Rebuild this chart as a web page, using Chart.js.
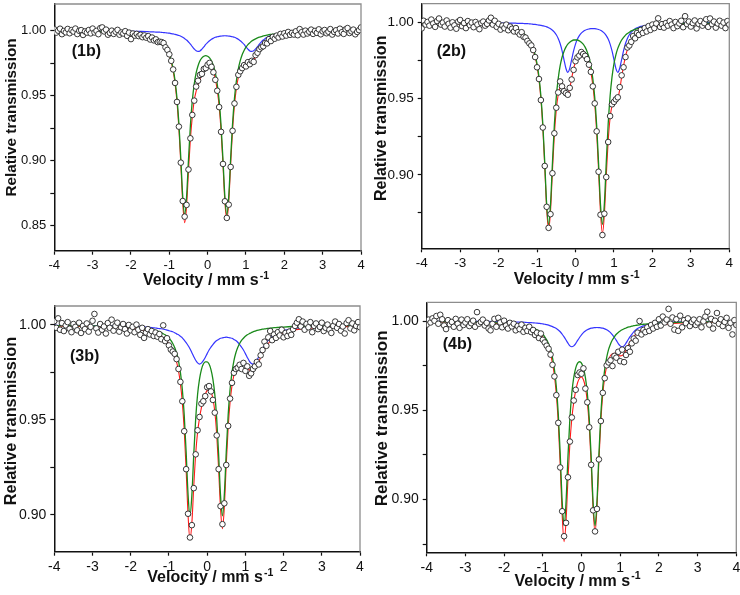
<!DOCTYPE html>
<html>
<head>
<meta charset="utf-8">
<title>Mossbauer spectra 1b-4b</title>
<script src="https://cdn.jsdelivr.net/npm/chart.js@4.4.0/dist/chart.umd.min.js"></script>
<style>
  html, body { margin: 0; padding: 0; background: #fff; }
  #fig { position: relative; width: 740px; height: 595px; overflow: hidden; }
  #fig canvas { position: absolute; }
</style>
</head>
<body>
<div id="fig">
  <canvas id="c1b" width="370" height="297" style="left:0;top:0"></canvas>
  <canvas id="c2b" width="370" height="297" style="left:370px;top:0"></canvas>
  <canvas id="c3b" width="370" height="298" style="left:0;top:297px"></canvas>
  <canvas id="c4b" width="370" height="298" style="left:370px;top:297px"></canvas>
</div>
<script>
// velocity channels of the measured points (mm/s)
const velocity = [
  -4,-3.95,-3.9,-3.85,-3.8,-3.75,-3.7,-3.65,-3.6,-3.55,
  -3.5,-3.45,-3.4,-3.35,-3.3,-3.25,-3.2,-3.15,-3.1,-3.05,
  -3,-2.95,-2.9,-2.85,-2.8,-2.75,-2.7,-2.65,-2.6,-2.55,
  -2.5,-2.45,-2.4,-2.35,-2.3,-2.25,-2.2,-2.15,-2.1,-2.05,
  -2,-1.95,-1.9,-1.85,-1.8,-1.75,-1.7,-1.65,-1.6,-1.55,
  -1.5,-1.45,-1.4,-1.35,-1.3,-1.25,-1.2,-1.15,-1.1,-1.05,
  -1,-0.95,-0.9,-0.85,-0.8,-0.75,-0.7,-0.65,-0.6,-0.55,
  -0.5,-0.45,-0.4,-0.35,-0.3,-0.25,-0.2,-0.15,-0.1,-0.05,
  0,0.05,0.1,0.15,0.2,0.25,0.3,0.35,0.4,0.45,
  0.5,0.55,0.6,0.65,0.7,0.75,0.8,0.85,0.9,0.95,
  1,1.05,1.1,1.15,1.2,1.25,1.3,1.35,1.4,1.45,
  1.5,1.55,1.6,1.65,1.7,1.75,1.8,1.85,1.9,1.95,
  2,2.05,2.1,2.15,2.2,2.25,2.3,2.35,2.4,2.45,
  2.5,2.55,2.6,2.65,2.7,2.75,2.8,2.85,2.9,2.95,
  3,3.05,3.1,3.15,3.2,3.25,3.3,3.35,3.4,3.45,
  3.5,3.55,3.6,3.65,3.7,3.75,3.8,3.85,3.9,3.95,
  4
];

// velocities where the fitted curves are given
const fitVelocity = [
  -4,-3,-2.5,-2,-1.8,
  -1.6,-1.55,-1.5,-1.45,-1.4,-1.35,-1.3,-1.25,-1.2,-1.15,
  -1.1,-1.05,-1,-0.95,-0.9,-0.85,-0.8,-0.75,-0.7,-0.65,
  -0.6,-0.55,-0.5,-0.45,-0.4,-0.35,-0.3,-0.25,-0.2,-0.15,
  -0.1,-0.05,0,0.05,0.1,0.15,0.2,0.25,0.3,0.35,
  0.4,0.45,0.5,0.55,0.6,0.65,0.7,0.75,0.8,0.85,
  0.9,0.95,1,1.05,1.1,1.15,1.2,1.25,1.3,1.35,
  1.4,1.45,1.5,1.55,1.6,1.65,1.7,1.75,1.8,1.85,
  1.9,1.95,2,
  2.25,2.5,3,4
];

// ---- sample 1b ----
const data1b = [
  1.0010,.9985,1.0000,1.0015,.9973,.9998,.9987,1.0013,.9980,1.0004,
  .9993,1.0016,.9974,.9999,1.0004,.9967,.9994,.9985,1.0005,.9979,
  1.0016,.9986,.9998,.9973,1.0020,1.0025,.9994,1.0008,.9969,.9983,
  1.0000,.9975,.9992,1.0006,.9969,.9986,.9978,.9996,.9960,.9985,
  .9935,.9978,.9962,.9975,.9958,.9968,.9950,.9963,.9946,.9958,
  .9932,.9947,.9925,.9933,.9912,.9915,.9912,.9905,.9872,.9852,
  .9818,.9768,.9702,.9598,.9452,.9262,.8985,.8690,.8570,.8660,
  .8932,.9172,.9352,.9462,.9570,.9615,.9660,.9668,.9705,.9712,
  .9738,.9752,.9722,.9680,.9622,.9538,.9412,.9222,.8975,.8688,
  .8560,.8662,.8952,.9230,.9440,.9568,.9660,.9688,.9712,.9735,
  .9725,.9758,.9742,.9768,.9760,.9812,.9830,.9858,.9872,.9880,
  .9905,.9902,.9935,.9920,.9952,.9938,.9962,.9948,.9975,.9955,
  .9980,.9962,.9990,.9968,.9983,.9970,.9995,.9965,1.0012,.9988,
  .9970,1.0000,.9978,.9992,1.0008,.9975,.9998,.9983,1.0010,.9972,
  .9995,1.0005,.9980,.9992,1.0012,.9970,.9990,1.0003,.9978,1.0015,
  .9988,.9975,1.0010,1.0020,.9982,.9995,1.0008,.9972,.9990,1.0004,
  1.0025
];
const fit1b = [
  .9995,.9990,.9985,.9974,.9967,
  .9955,.9951,.9946,.9941,.9936,.9930,.9924,.9918,.9907,.9892,
  .9872,.9846,.9811,.9760,.9692,.9592,.9452,.9248,.8974,.8675,
  .8524,.8649,.8920,.9168,.9339,.9464,.9535,.9585,.9627,.9664,
  .9693,.9717,.9727,.9729,.9717,.9687,.9630,.9543,.9418,.9229,
  .8968,.8681,.8546,.8684,.8973,.9238,.9431,.9557,.9640,.9692,
  .9724,.9742,.9748,.9751,.9751,.9760,.9774,.9796,.9821,.9847,
  .9867,.9887,.9901,.9914,.9926,.9934,.9940,.9945,.9952,.9955,
  .9959,.9962,.9965,
  .9975,.9982,.9989,.9994
];
const green1b = [
  .9996,.9992,.9988,.9979,.9973,
  .9962,.9959,.9954,.9950,.9944,.9937,.9929,.9920,.9907,.9893,
  .9873,.9848,.9815,.9769,.9706,.9615,.9482,.9285,.9017,.8726,
  .8585,.8721,.9007,.9271,.9462,.9590,.9675,.9730,.9768,.9791,
  .9803,.9808,.9803,.9791,.9768,.9730,.9675,.9590,.9462,.9271,
  .9007,.8721,.8585,.8726,.9017,.9285,.9482,.9615,.9706,.9769,
  .9815,.9848,.9873,.9893,.9907,.9920,.9929,.9937,.9944,.9950,
  .9954,.9959,.9962,.9965,.9969,.9971,.9973,.9974,.9977,.9978,
  .9979,.9980,.9981,
  .9986,.9989,.9993,.9996
];
const blue1b = [
  .9999,.9998,.9997,.9995,.9994,
  .9993,.9992,.9991,.9991,.9990,.9989,.9989,.9988,.9987,.9985,
  .9984,.9982,.9981,.9977,.9975,.9971,.9967,.9963,.9957,.9949,
  .9939,.9928,.9913,.9897,.9877,.9859,.9845,.9840,.9844,.9858,
  .9875,.9894,.9909,.9923,.9934,.9942,.9949,.9953,.9956,.9958,
  .9960,.9961,.9960,.9958,.9956,.9953,.9949,.9942,.9934,.9923,
  .9909,.9894,.9875,.9858,.9844,.9840,.9845,.9859,.9877,.9897,
  .9913,.9928,.9939,.9949,.9957,.9963,.9967,.9971,.9975,.9977,
  .9980,.9982,.9984,
  .9989,.9993,.9996,.9998
];

// ---- sample 2b ----
const data2b = [
  .9960,1.0010,.9985,1.0002,.9978,1.0018,.9992,.9970,1.0008,1.0025,
  .9985,.9998,.9972,1.0012,.9990,.9965,1.0000,.9980,.9958,1.0005,
  1.0015,.9975,.9995,.9962,1.0008,.9982,.9998,.9968,1.0002,.9985,
  .9955,.9995,1.0005,.9978,.9990,1.0012,1.0030,.9985,1.0010,.9970,
  .9990,.9952,.9978,.9962,.9985,.9948,.9972,.9958,.9940,.9962,
  .9935,.9920,.9935,.9905,.9900,.9878,.9862,.9848,.9818,.9772,
  .9705,.9628,.9490,.9310,.9058,.8790,.8652,.8742,.9010,.9272,
  .9440,.9540,.9612,.9580,.9548,.9535,.9525,.9570,.9625,.9688,
  .9745,.9770,.9782,.9805,.9792,.9780,.9758,.9722,.9675,.9580,
  .9468,.9285,.9020,.8738,.8605,.8745,.8985,.9215,.9385,.9462,
  .9478,.9495,.9508,.9575,.9652,.9705,.9772,.9835,.9848,.9872,
  .9910,.9895,.9930,.9918,.9950,.9930,.9962,.9940,.9975,.9950,
  .9985,.9962,.9992,1.0026,.9970,.9988,.9965,.9995,.9978,1.0008,
  .9985,.9962,1.0002,.9975,.9992,1.0010,.9968,1.0040,.9988,1.0005,
  .9972,.9995,1.0012,.9960,.9990,1.0008,.9978,.9995,1.0020,.9970,
  1.0025,.9988,1.0005,.9965,.9992,1.0010,.9978,.9998,.9962,1.0008,
  .9985
];
const fit2b = [
  .9995,.9990,.9985,.9975,.9966,
  .9953,.9948,.9942,.9937,.9928,.9919,.9907,.9892,.9874,.9849,
  .9816,.9773,.9712,.9624,.9497,.9310,.9054,.8777,.8639,.8762,
  .9024,.9262,.9426,.9525,.9575,.9586,.9565,.9536,.9529,.9567,
  .9633,.9696,.9741,.9774,.9791,.9798,.9797,.9785,.9762,.9727,
  .9672,.9589,.9466,.9282,.9029,.8753,.8615,.8736,.8993,.9223,
  .9374,.9454,.9483,.9485,.9501,.9559,.9640,.9715,.9777,.9821,
  .9853,.9879,.9896,.9911,.9923,.9931,.9939,.9945,.9950,.9954,
  .9959,.9962,.9966,
  .9977,.9982,.9989,.9995
];
const green2b = [
  .9996,.9992,.9988,.9979,.9971,
  .9959,.9954,.9949,.9944,.9935,.9927,.9916,.9901,.9884,.9860,
  .9829,.9787,.9728,.9642,.9517,.9333,.9080,.8807,.8675,.8805,
  .9076,.9326,.9508,.9631,.9714,.9771,.9809,.9837,.9857,.9869,
  .9878,.9884,.9884,.9884,.9878,.9869,.9857,.9837,.9809,.9771,
  .9714,.9631,.9508,.9326,.9076,.8805,.8675,.8807,.9080,.9333,
  .9517,.9642,.9728,.9787,.9829,.9860,.9884,.9901,.9916,.9927,
  .9935,.9944,.9949,.9954,.9959,.9962,.9966,.9969,.9971,.9973,
  .9975,.9976,.9979,
  .9985,.9988,.9992,.9996
];
const blue2b = [
  .9999,.9998,.9997,.9996,.9995,
  .9994,.9994,.9993,.9993,.9993,.9992,.9991,.9991,.9990,.9989,
  .9987,.9986,.9984,.9982,.9980,.9977,.9974,.9970,.9964,.9957,
  .9948,.9936,.9918,.9894,.9861,.9815,.9756,.9699,.9672,.9698,
  .9755,.9812,.9857,.9890,.9913,.9929,.9940,.9948,.9953,.9956,
  .9958,.9958,.9958,.9956,.9953,.9948,.9940,.9929,.9913,.9890,
  .9857,.9812,.9755,.9698,.9672,.9699,.9756,.9814,.9861,.9894,
  .9918,.9935,.9947,.9957,.9964,.9969,.9973,.9976,.9979,.9981,
  .9984,.9986,.9987,
  .9992,.9994,.9997,.9999
];

// ---- sample 3b ----
const data3b = [
  1.0020,.9985,1.0035,.9975,1.0010,.9968,.9998,1.0015,.9980,.9962,
  1.0005,.9990,.9972,1.0012,.9958,.9995,.9978,1.0008,.9965,.9990,
  1.0022,1.0058,.9982,.9960,1.0005,.9975,.9992,.9955,1.0010,.9985,
  1.0028,.9970,.9995,1.0012,.9965,.9988,1.0005,.9978,.9955,1.0000,
  .9972,.9990,.9962,1.0002,.9975,.9948,.9985,.9932,.9960,.9978,
  .9950,.9968,.9942,.9960,.9938,.9952,.9925,.9998,.9915,.9930,
  .9892,.9870,.9860,.9848,.9820,.9768,.9700,.9598,.9440,.9240,
  .9005,.8880,.8945,.9140,.9318,.9445,.9515,.9585,.9598,.9625,
  .9672,.9678,.9650,.9605,.9538,.9418,.9240,.9045,.8950,.9060,
  .9262,.9468,.9612,.9695,.9748,.9768,.9775,.9790,.9768,.9800,
  .9758,.9782,.9732,.9745,.9768,.9782,.9805,.9792,.9840,.9868,
  .9912,.9890,.9935,.9968,.9920,.9950,.9932,.9962,.9945,.9975,
  .9935,.9958,.9942,.9965,.9948,.9978,.9995,1.0012,1.0030,.9992,
  1.0018,.9975,1.0005,.9988,1.0015,.9962,.9995,1.0008,.9978,.9990,
  1.0012,.9968,.9985,1.0002,.9975,.9958,.9995,1.0018,.9985,1.0005,
  .9970,.9992,.9955,1.0010,1.0025,.9982,1.0008,.9972,.9995,1.0015,
  .9988
];
const fit3b = [
  .9995,.9991,.9988,.9981,.9977,
  .9970,.9967,.9965,.9962,.9958,.9955,.9949,.9945,.9939,.9932,
  .9924,.9913,.9900,.9886,.9866,.9840,.9805,.9759,.9690,.9593,
  .9445,.9237,.9000,.8869,.8956,.9151,.9320,.9435,.9509,.9564,
  .9606,.9635,.9655,.9662,.9648,.9612,.9544,.9424,.9242,.9032,
  .8926,.9042,.9266,.9459,.9593,.9680,.9735,.9770,.9790,.9799,
  .9802,.9798,.9789,.9777,.9765,.9757,.9758,.9766,.9785,.9805,
  .9829,.9852,.9871,.9888,.9902,.9915,.9924,.9934,.9939,.9945,
  .9951,.9955,.9959,
  .9973,.9979,.9987,.9993
];
const green3b = [
  .9997,.9995,.9993,.9989,.9986,
  .9981,.9979,.9978,.9976,.9973,.9971,.9967,.9964,.9959,.9954,
  .9948,.9940,.9930,.9919,.9902,.9881,.9852,.9811,.9750,.9661,
  .9525,.9330,.9108,.8994,.9102,.9318,.9506,.9635,.9715,.9765,
  .9794,.9806,.9806,.9794,.9765,.9715,.9635,.9506,.9318,.9102,
  .8994,.9108,.9330,.9525,.9661,.9750,.9811,.9852,.9881,.9902,
  .9919,.9930,.9940,.9948,.9954,.9959,.9964,.9967,.9971,.9973,
  .9975,.9978,.9979,.9981,.9982,.9983,.9984,.9986,.9986,.9987,
  .9988,.9988,.9989,
  .9992,.9993,.9995,.9997
];
const blue3b = [
  .9998,.9996,.9995,.9992,.9991,
  .9989,.9988,.9987,.9986,.9985,.9984,.9982,.9981,.9980,.9978,
  .9976,.9973,.9970,.9967,.9964,.9959,.9953,.9948,.9940,.9932,
  .9920,.9907,.9892,.9875,.9854,.9833,.9814,.9800,.9794,.9799,
  .9812,.9829,.9849,.9868,.9883,.9897,.9909,.9918,.9924,.9930,
  .9932,.9934,.9936,.9934,.9932,.9930,.9924,.9918,.9909,.9897,
  .9883,.9868,.9849,.9829,.9811,.9798,.9794,.9799,.9814,.9832,
  .9854,.9874,.9892,.9907,.9920,.9932,.9940,.9948,.9953,.9958,
  .9963,.9967,.9970,
  .9981,.9986,.9992,.9996
];

// ---- sample 4b ----
const data4b = [
  .9980,1.0008,.9992,1.0015,1.0002,1.0028,.9985,1.0035,1.0010,.9975,
  .9955,1.0005,.9982,.9995,.9968,1.0012,.9985,.9962,1.0008,.9978,
  .9992,1.0010,.9972,.9988,1.0002,.9968,1.0050,.9985,.9995,1.0008,
  .9975,.9990,.9958,.9948,.9985,1.0012,.9968,1.0018,.9992,.9965,
  1.0002,.9975,.9958,.9990,.9970,.9985,.9948,.9972,.9955,.9980,
  .9940,.9962,.9945,.9968,.9938,.9950,.9922,.9935,.9905,.9930,
  .9895,.9880,.9862,.9845,.9812,.9755,.9690,.9585,.9430,.9180,
  .8935,.8795,.8870,.9125,.9325,.9460,.9555,.9615,.9698,.9712,
  .9705,.9735,.9622,.9545,.9405,.9195,.8940,.8822,.8948,.9225,
  .9440,.9598,.9680,.9752,.9768,.9780,.9748,.9805,.9795,.9828,
  .9775,.9840,.9770,.9810,.9848,.9828,.9875,.9902,.9890,.9935,
  1.0000,.9925,.9950,.9938,.9965,.9945,.9978,.9958,.9990,.9968,
  1.0010,.9975,1.0025,.9992,1.0008,1.0068,.9985,1.0020,.9952,1.0010,
  .9945,1.0030,.9965,1.0005,.9988,1.0015,.9972,.9995,1.0008,.9978,
  .9992,1.0010,.9965,.9998,1.0025,1.0052,.9980,1.0012,.9958,1.0002,
  1.0045,.9985,1.0010,.9972,.9995,1.0018,.9962,.9990,.9925,1.0005,
  .9978
];
const fit4b = [
  .9996,.9993,.9991,.9984,.9980,
  .9973,.9971,.9970,.9967,.9963,.9959,.9957,.9951,.9946,.9939,
  .9931,.9922,.9910,.9894,.9875,.9849,.9814,.9764,.9694,.9589,
  .9429,.9195,.8918,.8765,.8878,.9116,.9316,.9453,.9546,.9610,
  .9656,.9680,.9687,.9671,.9629,.9548,.9411,.9200,.8946,.8817,
  .8956,.9218,.9441,.9591,.9686,.9746,.9785,.9807,.9817,.9820,
  .9818,.9810,.9805,.9807,.9818,.9837,.9860,.9879,.9897,.9913,
  .9926,.9935,.9943,.9950,.9955,.9959,.9963,.9966,.9969,.9973,
  .9974,.9976,.9977,
  .9984,.9988,.9992,.9995
];
const green4b = [
  .9997,.9995,.9993,.9988,.9985,
  .9979,.9977,.9976,.9974,.9971,.9968,.9966,.9961,.9957,.9951,
  .9944,.9936,.9926,.9912,.9895,.9872,.9841,.9795,.9730,.9631,
  .9479,.9255,.8992,.8854,.8984,.9240,.9455,.9597,.9685,.9736,
  .9764,.9772,.9764,.9736,.9685,.9597,.9455,.9240,.8984,.8854,
  .8992,.9255,.9479,.9631,.9730,.9795,.9841,.9872,.9895,.9912,
  .9926,.9936,.9944,.9951,.9957,.9961,.9966,.9968,.9971,.9974,
  .9976,.9977,.9979,.9981,.9982,.9983,.9984,.9985,.9986,.9987,
  .9987,.9988,.9988,
  .9991,.9993,.9995,.9997
];
const blue4b = [
  .9999,.9998,.9998,.9996,.9995,
  .9994,.9994,.9994,.9993,.9992,.9991,.9991,.9990,.9989,.9988,
  .9987,.9986,.9984,.9982,.9980,.9977,.9973,.9969,.9964,.9958,
  .9950,.9940,.9926,.9911,.9894,.9876,.9861,.9856,.9861,.9874,
  .9892,.9908,.9923,.9935,.9944,.9951,.9956,.9960,.9962,.9963,
  .9964,.9963,.9962,.9960,.9956,.9951,.9944,.9935,.9922,.9908,
  .9892,.9874,.9861,.9856,.9861,.9876,.9894,.9911,.9926,.9939,
  .9950,.9958,.9964,.9969,.9973,.9976,.9979,.9981,.9983,.9986,
  .9987,.9988,.9989,
  .9993,.9995,.9997,.9998
];

const FONT = "'Liberation Sans', Arial, Helvetica, sans-serif";

// layout of the four panels (canvas-local pixels)
const panels = [
  { id: 'c1b', tag: '(1b)', points: data1b, fit: fit1b, green: green1b, blue: blue1b,
    area: { left: 54.3, right: 361, top: 4, bottom: 250.7 }, yMin: 0.8308, yMax: 1.0205, tickSize: 13,
    yTitle: { x: 12, y: 117.5, size: 15.3 }, xTitle: { x: 206, y: 285 }, tagPos: { x: 71.7, y: 51.7 } },
  { id: 'c2b', tag: '(2b)', points: data2b, fit: fit2b, green: green2b, blue: blue2b,
    area: { left: 51.7, right: 359.3, top: 2, bottom: 248.3 }, yMin: 0.8518, yMax: 1.0122, tickSize: 13.5,
    yTitle: { x: 12, y: 118.3, size: 16 }, xTitle: { x: 206.7, y: 284 }, tagPos: { x: 66.7, y: 51.7 } },
  { id: 'c3b', tag: '(3b)', points: data3b, fit: fit3b, green: green3b, blue: blue3b,
    area: { left: 54.3, right: 360, top: 9, bottom: 254.7 }, yMin: 0.8805, yMax: 1.0100, tickSize: 14,
    yTitle: { x: 11.7, y: 124, size: 16.3 }, xTitle: { x: 210.3, y: 285 }, tagPos: { x: 70, y: 59.7 } },
  { id: 'c4b', tag: '(4b)', points: data4b, fit: fit4b, green: green4b, blue: blue4b,
    area: { left: 56.7, right: 366.7, top: 5.3, bottom: 255.3 }, yMin: 0.8705, yMax: 1.0105, tickSize: 14,
    yTitle: { x: 12.5, y: 121.3, size: 17 }, xTitle: { x: 207.5, y: 288.7 }, tagPos: { x: 72.7, y: 48 } }
];

function xy(xs, ys) {
  return xs.map((x, i) => ({ x: x, y: ys[i] }));
}

// frame on top/right, axis titles and the sample tag
const panelDecor = {
  id: 'panelDecor',
  afterDraw(chart, args, opts) {
    const ctx = chart.ctx;
    const a = chart.chartArea;
    ctx.save();
    ctx.strokeStyle = '#8d8d8d';
    ctx.lineWidth = 1.3;
    ctx.beginPath();
    ctx.moveTo(a.left, a.top);
    ctx.lineTo(a.right, a.top);
    ctx.lineTo(a.right, a.bottom);
    ctx.stroke();

    ctx.fillStyle = '#111';
    ctx.save();
    ctx.font = 'bold ' + opts.yTitle.size + 'px ' + FONT;
    ctx.textAlign = 'center';
    ctx.textBaseline = 'middle';
    ctx.translate(opts.yTitle.x, opts.yTitle.y);
    ctx.rotate(-Math.PI / 2);
    ctx.fillText('Relative transmission', 0, 0);
    ctx.restore();

    const main = 'Velocity / mm s', sup = '-1';
    ctx.font = 'bold 16px ' + FONT;
    const w1 = ctx.measureText(main).width;
    ctx.font = 'bold 10.5px ' + FONT;
    const w2 = ctx.measureText(sup).width;
    const x0 = opts.xTitle.x - (w1 + w2 + 1) / 2;
    ctx.textAlign = 'left';
    ctx.textBaseline = 'alphabetic';
    ctx.font = 'bold 16px ' + FONT;
    ctx.fillText(main, x0, opts.xTitle.y);
    ctx.font = 'bold 10.5px ' + FONT;
    ctx.fillText(sup, x0 + w1 + 1, opts.xTitle.y - 6.5);

    ctx.font = 'bold 16px ' + FONT;
    ctx.textBaseline = 'middle';
    ctx.fillText(opts.tag, opts.tagPos.x, opts.tagPos.y);
    ctx.restore();
  }
};

panels.forEach(p => {
  const canvas = document.getElementById(p.id);
  const W = canvas.width, H = canvas.height;
  new Chart(canvas, {
    type: 'scatter',
    data: {
      datasets: [
        { label: 'Experimental', data: xy(velocity, p.points), showLine: false,
          pointRadius: 2.8, pointHoverRadius: 2.8, pointBorderWidth: 0.9,
          pointBackgroundColor: '#ffffff', pointBorderColor: '#222222', order: 0 },
        { label: 'Doublet 1', data: xy(fitVelocity, p.green), showLine: true,
          borderColor: '#1a8a1a', borderWidth: 1.3, pointRadius: 0, pointHoverRadius: 0,
          cubicInterpolationMode: 'monotone', order: 1 },
        { label: 'Total fit', data: xy(fitVelocity, p.fit), showLine: true,
          borderColor: '#ff1a1a', borderWidth: 1.1, pointRadius: 0, pointHoverRadius: 0,
          cubicInterpolationMode: 'monotone', order: 2 },
        { label: 'Doublet 2', data: xy(fitVelocity, p.blue), showLine: true,
          borderColor: '#3535ff', borderWidth: 1.2, pointRadius: 0, pointHoverRadius: 0,
          cubicInterpolationMode: 'monotone', order: 3 }
      ]
    },
    options: {
      responsive: false,
      animation: false,
      devicePixelRatio: 1,
      events: [],
      layout: { padding: { left: 0, top: p.area.top, right: W - p.area.right, bottom: 0 } },
      plugins: {
        legend: { display: false },
        tooltip: { enabled: false },
        panelDecor: { yTitle: p.yTitle, xTitle: p.xTitle, tag: p.tag, tagPos: p.tagPos }
      },
      scales: {
        x: {
          type: 'linear', position: 'bottom', min: -4, max: 4,
          afterFit: s => { s.height = H - p.area.bottom; s.paddingLeft = 0; s.paddingRight = 0; },
          ticks: { stepSize: 1, autoSkip: false, maxRotation: 0, padding: 3, color: '#111',
                   font: { family: FONT, size: p.tickSize }, callback: v => String(v) },
          grid: { drawOnChartArea: false, drawTicks: true, tickLength: 4, tickColor: '#111', tickWidth: 1.2 },
          border: { display: true, color: '#111', width: 1.5 },
          title: { display: false }
        },
        y: {
          type: 'linear', position: 'left', min: p.yMin, max: p.yMax,
          afterFit: s => { s.width = p.area.left; s.paddingTop = 0; s.paddingBottom = 0; },
          ticks: { stepSize: 0.025, includeBounds: false, autoSkip: false, padding: 4, color: '#111',
                   font: { family: FONT, size: p.tickSize },
                   callback: v => (Math.round(v * 1000) % 50 === 0 ? v.toFixed(2) : '') },
          grid: { drawOnChartArea: false, drawTicks: true, tickLength: 4, tickColor: '#111', tickWidth: 1.2 },
          border: { display: true, color: '#111', width: 1.5 },
          title: { display: false }
        }
      }
    },
    plugins: [panelDecor]
  });
});
</script>
</body>
</html>
